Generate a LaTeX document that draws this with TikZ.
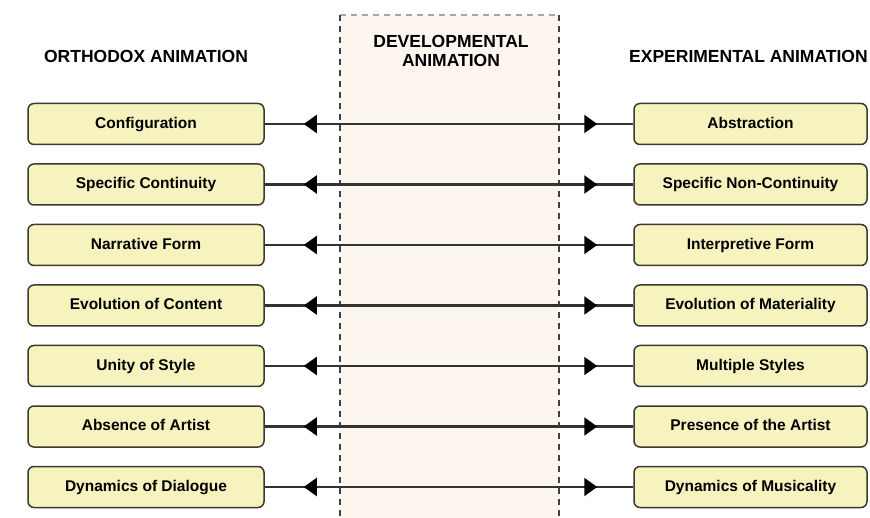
\documentclass[tikz,border=0pt]{standalone}
\usepackage{fontspec}
\setmainfont{Liberation Sans}
\usetikzlibrary{arrows.meta,decorations.markings}
\definecolor{boxfill}{HTML}{F6F3BF}
\definecolor{boxline}{HTML}{3A3A30}
\definecolor{bandfill}{HTML}{FCF6EF}
\definecolor{linkcol}{HTML}{333333}
\tikzset{
  x=1pt, y=-1pt,
  item/.style={draw=boxline, line width=1.5pt, fill=boxfill, rounded corners=6pt,
    minimum height=41pt, inner sep=0pt, text=black,
    text height=11pt, text depth=2.5pt,
    font=\fontsize{15.5}{17}\selectfont\bfseries},
  leftitem/.style={item, minimum width=236pt},
  rightitem/.style={item, minimum width=233pt},
  heading/.style={font=\fontsize{17.5}{19}\selectfont\bfseries, inner sep=0pt, align=center},
  link/.style={draw=linkcol, line width=2.2pt,
    postaction={decorate, decoration={markings,
      mark=at position 39pt with {\arrowreversed[black]{Triangle[length=13pt,width=18pt]}},
      mark=at position -36pt with {\arrow[black]{Triangle[length=13pt,width=18pt]}}}}},
  bandedge/.style={draw=black!75, line width=1.1pt, dash pattern=on 6pt off 5pt},
  bandtop/.style={draw=black!35, line width=1.6pt, dash pattern=on 6pt off 5pt}
}
\begin{document}
\begin{tikzpicture}
\useasboundingbox (0,0) rectangle (870,518);
\clip (0,0) rectangle (870,518);
\fill[white] (0,0) rectangle (870,518);

% middle band
\fill[bandfill] (340,15) rectangle (559,518);
\draw[bandtop] (340,15) -- (559,15);
\draw[bandedge] (340,15) -- (340,518);
\draw[bandedge] (559,15) -- (559,518);

% headings
\node[heading] (hleft) at (146,56) {ORTHODOX ANIMATION};
\node[heading] (hmid) at (451,51) {DEVELOPMENTAL\\ANIMATION};
\node[heading, anchor=west] (hright) at (629,56) {EXPERIMENTAL ANIMATION};

% left column
\node[leftitem] (l1) at (146,124.0) {Configuration};
\node[leftitem] (l2) at (146,184.5) {Specific Continuity};
\node[leftitem] (l3) at (146,245.0) {Narrative Form};
\node[leftitem] (l4) at (146,305.5) {Evolution of Content};
\node[leftitem] (l5) at (146,366.0) {Unity of Style};
\node[leftitem] (l6) at (146,426.5) {Absence of Artist};
\node[leftitem] (l7) at (146,487.0) {Dynamics of Dialogue};

% right column
\node[rightitem] (r1) at (750.5,124.0) {Abstraction};
\node[rightitem] (r2) at (750.5,184.5) {Specific Non-Continuity};
\node[rightitem] (r3) at (750.5,245.0) {Interpretive Form};
\node[rightitem] (r4) at (750.5,305.5) {Evolution of Materiality};
\node[rightitem] (r5) at (750.5,366.0) {Multiple Styles};
\node[rightitem] (r6) at (750.5,426.5) {Presence of the Artist};
\node[rightitem] (r7) at (750.5,487.0) {Dynamics of Musicality};

% connectors
\foreach \i in {1,...,7}
  \draw[link] (l\i.east) -- (r\i.west);
\end{tikzpicture}
\end{document}
